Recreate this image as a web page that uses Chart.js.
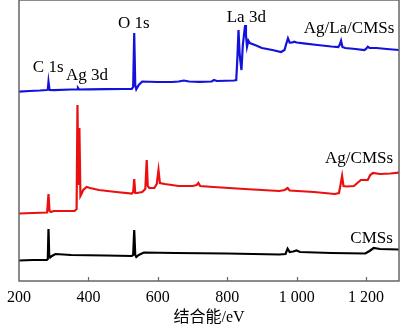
<!DOCTYPE html>
<html>
<head>
<meta charset="utf-8">
<script src="https://cdn.jsdelivr.net/npm/chart.js@4/dist/chart.umd.min.js"></script>
<style>
  html, body { margin: 0; padding: 0; background: #fff; }
  #wrap { width: 400px; height: 329px; }
</style>
</head>
<body>
<div id="wrap"><canvas id="xps"></canvas></div>
<script>
// binding energy (eV) / intensity (a.u., curves offset)
var cmsEnergy = [200, 240, 280, 283, 285, 287, 290, 295, 305, 350, 450, 525, 529, 532, 535, 538, 545, 560, 650, 800, 950, 968, 974, 980, 990, 1000, 1010, 1100, 1198, 1210, 1222, 1240, 1295];
var cmsCounts = [20.5, 21, 21, 22, 52, 26, 23.5, 25, 27, 26, 25.5, 25, 26, 51, 26, 24, 26, 28.5, 28, 27.5, 26.5, 27, 32.3, 29, 29.5, 30.5, 29, 28, 27.5, 30, 33, 32, 31.5];

var agEnergy = [200, 240, 281, 285, 288, 292, 300, 360, 366, 368.5, 371, 374, 377, 380, 385, 395, 405, 430, 480, 525, 529, 532, 535, 540, 555, 564, 568, 571, 575, 590, 597, 602, 606, 620, 660, 700, 712, 717, 722, 760, 850, 950, 966, 974, 980, 1050, 1110, 1122, 1127, 1131, 1135, 1145, 1165, 1175, 1185, 1205, 1212, 1220, 1240, 1270, 1295];
var agCounts = [67.5, 68, 68.5, 87, 70, 69, 70, 70, 72, 176, 96, 153, 85, 87, 91, 94, 93, 91, 89, 87.5, 89, 102, 88, 88, 89, 92, 121, 95, 93, 93, 97, 111, 98, 97, 95, 95, 96, 98, 95, 94, 92, 90, 91, 93, 90.5, 89, 87, 88, 97, 105, 95, 94.5, 95, 98, 101, 101, 106, 108, 107, 107.5, 108.3];

var agLaEnergy = [200, 230, 260, 280, 283, 285, 288, 300, 350, 368, 370, 373, 400, 450, 500, 525, 529, 532, 535, 538, 545, 555, 600, 640, 660, 675, 690, 720, 755, 762, 770, 820, 826, 829, 832.5, 836, 841, 845, 851.5, 854, 857, 861, 865, 880, 900, 930, 955, 965, 970, 975, 980, 988, 993, 1000, 1020, 1060, 1100, 1120, 1124, 1128, 1132, 1140, 1170, 1195, 1200, 1205, 1210, 1230, 1260, 1295];
var agLaCounts = [189.3, 190, 190.5, 191, 191.5, 199.3, 191, 190.8, 191.5, 191.5, 193, 191.5, 191.7, 191.8, 192, 192, 194, 248, 196, 191.7, 196, 199.5, 199, 199, 199.5, 200.5, 199.5, 199.2, 199.5, 201, 200, 200.5, 201, 221, 251, 226, 211, 236, 256, 246, 234.3, 240.3, 238, 236, 233, 231, 229, 231, 237, 242.7, 238.3, 238.5, 239.3, 238.5, 237.7, 236, 234.5, 234, 236, 240.3, 234, 233, 232, 231, 232, 234.3, 233, 233, 232, 231];

var tickValues = [200, 400, 600, 800, 1000, 1200];

// peak / sample labels: [text, energy, intensity at text baseline]
var notes = [
    ['C 1s', 284, 209],
    ['Ag 3d', 396, 201],
    ['O 1s', 531, 253],
    ['La 3d', 855, 259],
    ['Ag/La/CMSs', 1151, 248],
    ['Ag/CMSs', 1180, 117.7],
    ['CMSs', 1216, 38.3]
];

var serif = "'Liberation Serif', 'Times New Roman', 'Noto Sans CJK SC', serif";

function toPoints(xs, ys) {
    var pts = [];
    for (var i = 0; i < xs.length; i++) {
        pts.push({ x: xs[i], y: ys[i] });
    }
    return pts;
}

function fmtEnergy(v) {
    if (v >= 1000) {
        var s = String(v);
        return s.slice(0, s.length - 3) + ' ' + s.slice(s.length - 3);
    }
    return String(v);
}

// frame, inward ticks and the text labels
var decorate = {
    id: 'decorate',
    afterDatasetsDraw: function(chart) {
        var ctx = chart.ctx;
        var area = chart.chartArea;
        var xs = chart.scales.x;
        var ys = chart.scales.y;
        ctx.save();
        ctx.strokeStyle = '#666';
        ctx.lineWidth = 1.5;
        ctx.strokeRect(area.left, area.top, area.right - area.left, area.bottom - area.top);
        ctx.lineWidth = 1.2;
        tickValues.forEach(function(t) {
            var px = Math.round(xs.getPixelForValue(t)) + 0.5;
            if (px <= area.left + 1) return;
            ctx.beginPath();
            ctx.moveTo(px, area.bottom);
            ctx.lineTo(px, area.bottom - 4);
            ctx.stroke();
        });
        ctx.fillStyle = '#000';
        ctx.font = '17px ' + serif;
        ctx.textAlign = 'center';
        ctx.textBaseline = 'alphabetic';
        notes.forEach(function(n) {
            ctx.fillText(n[0], xs.getPixelForValue(n[1]), ys.getPixelForValue(n[2]));
        });
        ctx.restore();
    }
};

new Chart(document.getElementById('xps'), {
    type: 'line',
    data: {
        datasets: [{
            label: 'CMSs',
            data: toPoints(cmsEnergy, cmsCounts),
            borderColor: '#000000',
            borderWidth: 2.2
        }, {
            label: 'Ag/CMSs',
            data: toPoints(agEnergy, agCounts),
            borderColor: '#ea1010',
            borderWidth: 2.2
        }, {
            label: 'Ag/La/CMSs',
            data: toPoints(agLaEnergy, agLaCounts),
            borderColor: '#1212dc',
            borderWidth: 2.2
        }]
    },
    options: {
        responsive: true,
        maintainAspectRatio: false,
        animation: false,
        layout: { padding: { left: 14, right: 1, top: 0, bottom: 0 } },
        elements: { point: { radius: 0 }, line: { tension: 0 } },
        plugins: {
            legend: { display: false },
            tooltip: { enabled: false }
        },
        scales: {
            x: {
                type: 'linear',
                min: 200,
                max: 1295,
                afterFit: function(scale) { scale.height = 48; },
                grid: { display: false, drawTicks: false },
                border: { display: false },
                ticks: {
                    stepSize: 200,
                    includeBounds: false,
                    maxRotation: 0,
                    padding: 7,
                    color: '#000',
                    font: { family: serif, size: 16 },
                    callback: function(v) { return fmtEnergy(v); }
                },
                title: {
                    display: true,
                    text: '结合能/eV',
                    color: '#000',
                    font: { family: serif, size: 16 },
                    padding: { top: 0, bottom: 2 }
                }
            },
            y: {
                display: false,
                min: 0,
                max: 281
            }
        }
    },
    plugins: [decorate]
});
</script>
</body>
</html>
